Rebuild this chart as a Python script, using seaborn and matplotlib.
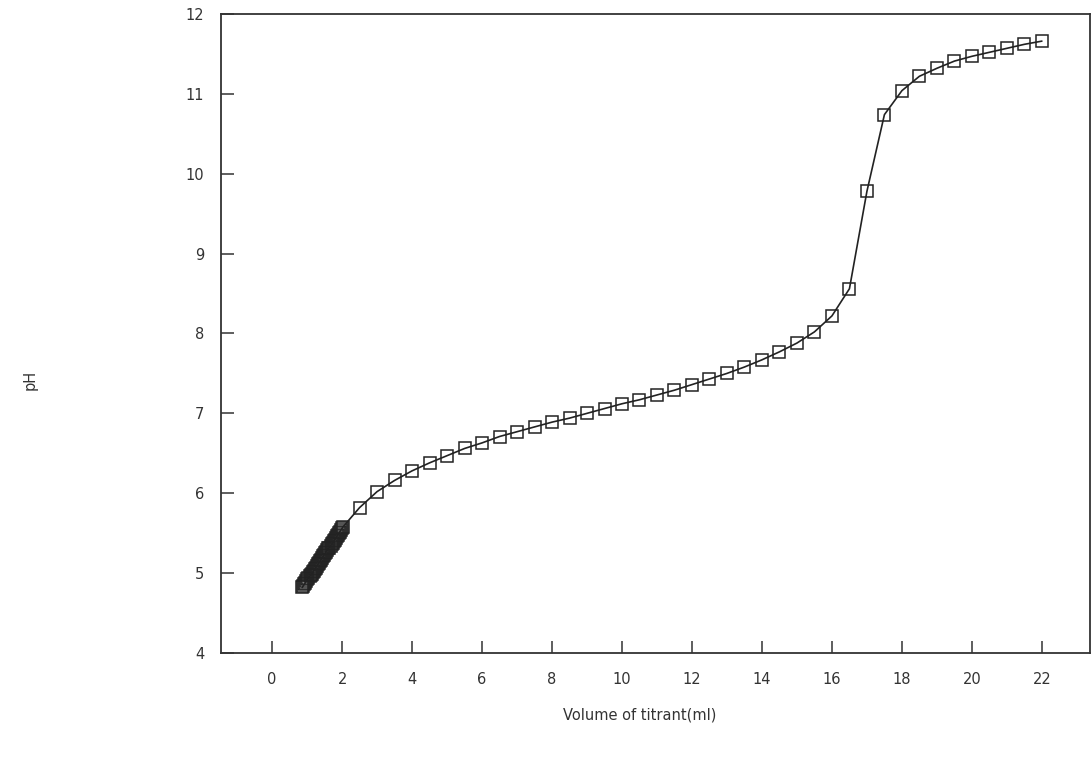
import matplotlib
matplotlib.use("Agg")
import matplotlib.pyplot as plt
import seaborn as sns
import pandas as pd

# Titration data: volume of titrant (ml) and measured pH
volume_ml = [0.86, 0.89, 0.92, 0.95, 0.98, 1.01, 1.04, 1.07, 1.10, 1.13, 1.16, 1.19,
             1.22, 1.25, 1.28, 1.31, 1.34, 1.37, 1.40, 1.43, 1.46, 1.49, 1.52, 1.55,
             1.58, 1.61, 1.64, 1.67, 1.70, 1.73, 1.76, 1.79, 1.82, 1.85, 1.88, 1.91,
             1.94, 1.97, 2.00, 2.03,
             2.5, 3.0, 3.5, 4.0, 4.5, 5.0, 5.5, 6.0, 6.5, 7.0, 7.5, 8.0, 8.5, 9.0,
             9.5, 10.0, 10.5, 11.0, 11.5, 12.0, 12.5, 13.0, 13.5, 14.0, 14.5, 15.0,
             15.5, 16.0, 16.5, 17.0, 17.5, 18.0, 18.5, 19.0, 19.5, 20.0, 20.5, 21.0,
             21.5, 22.0]
ph_values = [4.82, 4.84, 4.86, 4.88, 4.90, 4.92, 4.94, 4.96, 4.97, 4.99, 5.01, 5.03,
             5.05, 5.07, 5.09, 5.11, 5.13, 5.15, 5.17, 5.19, 5.21, 5.23, 5.25, 5.27,
             5.29, 5.31, 5.32, 5.34, 5.36, 5.38, 5.40, 5.42, 5.44, 5.46, 5.48, 5.50,
             5.52, 5.54, 5.56, 5.58,
             5.82, 6.02, 6.16, 6.28, 6.38, 6.47, 6.56, 6.63, 6.71, 6.77, 6.83, 6.89,
             6.94, 7.00, 7.06, 7.12, 7.17, 7.23, 7.29, 7.36, 7.43, 7.50, 7.58, 7.67,
             7.77, 7.88, 8.02, 8.22, 8.56, 9.78, 10.74, 11.04, 11.22, 11.32, 11.41,
             11.47, 11.52, 11.57, 11.62, 11.66]

x_ticks = [0, 2, 4, 6, 8, 10, 12, 14, 16, 18, 20, 22]
y_ticks = [4, 5, 6, 7, 8, 9, 10, 11, 12]
x_label = "Volume of titrant(ml)"
y_label = "pH"

df = pd.DataFrame({"volume": volume_ml, "ph": ph_values})

sns.set_theme(style="ticks")
plt.rcParams["font.family"] = ["DejaVu Sans"]

fig = plt.figure(figsize=(10.92, 7.59), dpi=100)
ax = fig.add_axes([0.2024, 0.1397, 0.7956, 0.8419])

sns.lineplot(data=df, x="volume", y="ph", ax=ax, sort=False, estimator=None,
             color="#222222", linewidth=1.2, marker="s", markersize=9,
             markerfacecolor="none", markeredgecolor="#222222", markeredgewidth=1.1)

ax.set_xlim(-1.46, 23.37)
ax.set_ylim(4, 12)
ax.set_xticks(x_ticks)
ax.set_yticks(y_ticks)
ax.tick_params(axis="both", direction="in", length=9, width=1.1, colors="#333333",
               labelsize=10.5, labelcolor="#333333")
ax.tick_params(axis="x", pad=14)
ax.tick_params(axis="y", pad=12)
for s in ax.spines.values():
    s.set_visible(True)
    s.set_color("#333333")
    s.set_linewidth(1.3)

ax.set_xlabel("")
ax.set_ylabel("")
fig.text(640 / 1092, 1 - 715 / 759, x_label, fontsize=10.5, color="#333333",
         ha="center", va="center")
fig.text(0.028, 0.5, y_label, rotation=90, fontsize=10.5, color="#333333",
         ha="center", va="center")

fig.savefig("out.png", dpi=100)
